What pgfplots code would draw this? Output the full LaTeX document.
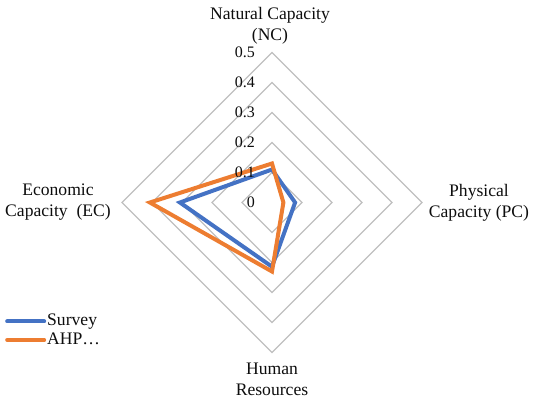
\documentclass[border=0pt]{standalone}
\usepackage{pgfplots}
\pgfplotsset{compat=1.18}
\usepackage{fontspec}
\setmainfont{Liberation Serif}
\definecolor{sblue}{RGB}{68,114,196}
\definecolor{sorange}{RGB}{237,125,49}
\definecolor{gridc}{RGB}{191,191,191}
\definecolor{txt}{RGB}{13,13,13}
\tikzset{ticklab/.style={anchor=east, inner sep=0pt, text=txt, font=\fontsize{16}{16}\selectfont, xshift=-17pt}}
\begin{document}
\begin{tikzpicture}
\useasboundingbox (-272pt,-197.5pt) rectangle (264pt,202.5pt);
\begin{axis}[anchor=origin, at={(0pt,0pt)}, x=300pt, y=300pt, hide axis, clip=false,
  xmin=-0.5, xmax=0.5, ymin=-0.5, ymax=0.5,
  legend style={at={(-0.39,0.135)}, anchor=north west, draw=none, fill=none,
    inner sep=0pt, column sep=0pt, row sep=0pt,
    font=\fontsize{17.6}{17.6}\selectfont,
    nodes={inner sep=1pt, text height=12.5pt, text depth=4pt, text=txt}},
  legend cell align=left,
  legend image code/.code={\draw[#1, line cap=round] (0pt,0pt) -- (37pt,0pt);}]
\addplot[gridc, line width=1.3pt, forget plot] coordinates {(0,0.1) (0.1,0) (0,-0.1) (-0.1,0)} -- cycle;
\addplot[gridc, line width=1.3pt, forget plot] coordinates {(0,0.2) (0.2,0) (0,-0.2) (-0.2,0)} -- cycle;
\addplot[gridc, line width=1.3pt, forget plot] coordinates {(0,0.3) (0.3,0) (0,-0.3) (-0.3,0)} -- cycle;
\addplot[gridc, line width=1.3pt, forget plot] coordinates {(0,0.4) (0.4,0) (0,-0.4) (-0.4,0)} -- cycle;
\addplot[gridc, line width=1.3pt, forget plot] coordinates {(0,0.5) (0.5,0) (0,-0.5) (-0.5,0)} -- cycle;
% Survey: NC, PC, HR, EC
\addplot[sblue, line width=4pt, line join=miter] coordinates {(0,0.11) (0.077,0) (0,-0.214) (-0.307,0)} -- cycle;
\addlegendentry{Survey}
% AHP: NC, PC, HR, EC
\addplot[sorange, line width=4pt, line join=miter] coordinates {(0,0.13) (0.038,0) (0,-0.23) (-0.407,0)} -- cycle;
\addlegendentry{AHP…}
\node[ticklab] at (axis cs:0,0) {0};
\node[ticklab] at (axis cs:0,0.1) {0.1};
\node[ticklab] at (axis cs:0,0.2) {0.2};
\node[ticklab] at (axis cs:0,0.3) {0.3};
\node[ticklab] at (axis cs:0,0.4) {0.4};
\node[ticklab] at (axis cs:0,0.5) {0.5};
\end{axis}
\begin{scope}[every node/.style={align=center, inner sep=0pt, text=txt, font=\fontsize{17.6}{21}\selectfont}]
\node at (-2pt,177pt) {Natural Capacity\\(NC)};
\node at (207pt,0pt) {Physical\\Capacity (PC)};
\node at (-214pt,0pt) {Economic\\Capacity\ \ (EC)};
\node at (0pt,-177pt) {Human\\Resources};
\end{scope}
\end{tikzpicture}
\end{document}
